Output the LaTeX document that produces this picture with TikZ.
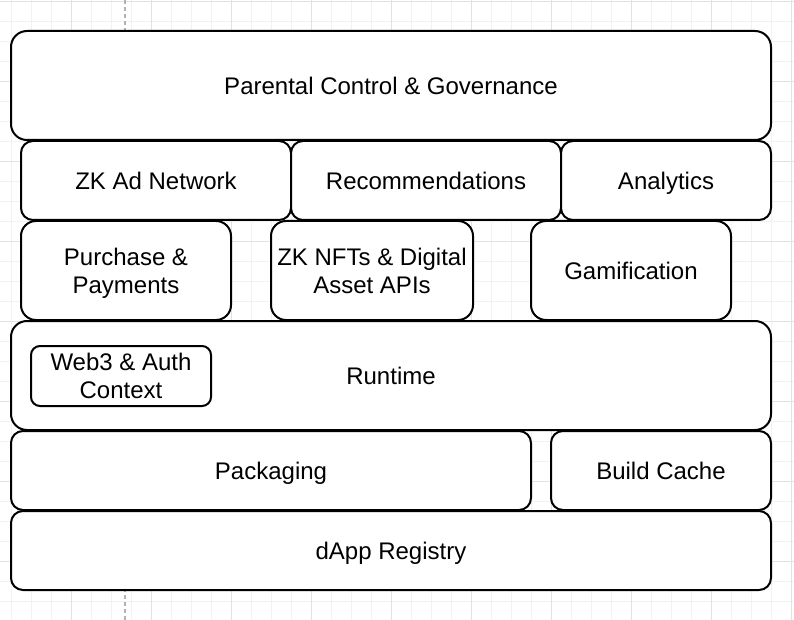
\documentclass[tikz,border=0pt]{standalone}
\usepackage{fontspec}
\setmainfont{Liberation Sans}

\definecolor{gridminor}{RGB}{242,242,242}
\definecolor{gridmajor}{RGB}{226,226,226}
\definecolor{pageline}{RGB}{178,178,178}

\tikzset{
    layer/.style={draw, line width=2pt, fill=white, rounded corners=12pt, inner sep=0pt,
        align=center, text depth=0pt, font=\fontsize{24}{28}\selectfont},
}

\begin{document}
\begin{tikzpicture}[x=1pt,y=-1pt]
            \useasboundingbox (0,0) rectangle (794,620);
            \fill[white] (0,0) rectangle (794,620);

            % background grid and page break
            \foreach \gx in {11.7,31.7,...,791.7} \draw[gridminor, line width=1pt] (\gx,0) -- (\gx,620);
            \foreach \gy in {1.7,21.7,...,601.7} \draw[gridminor, line width=1pt] (0,\gy) -- (794,\gy);
            \foreach \gx in {71.7,151.7,...,791.7} \draw[gridmajor, line width=1pt] (\gx,0) -- (\gx,620);
            \foreach \gy in {1.7,81.7,...,561.7} \draw[gridmajor, line width=1pt] (0,\gy) -- (794,\gy);
            \draw[pageline, line width=1.5pt, dash pattern=on 4pt off 3pt] (125,0) -- (125,620);

            \node (parental) at (391,85.5) [layer, rounded corners=16pt, minimum width=760pt, minimum height=109pt] {Parental Control \& Governance};

            \node (adnet) at (156,180.5) [layer, minimum width=270pt, minimum height=79pt] {ZK Ad Network};
            \node (recs) at (426,180.5) [layer, minimum width=270pt, minimum height=79pt] {Recommendations};
            \node (analytics) at (666,180.5) [layer, minimum width=210pt, minimum height=79pt] {Analytics};

            \node (purchase) at (126,270.5) [layer, rounded corners=15pt, minimum width=210pt, minimum height=99pt] {Purchase \&\\Payments};
            \node (nfts) at (372,270.5) [layer, rounded corners=15pt, minimum width=202pt, minimum height=99pt] {ZK NFTs \& Digital\\Asset APIs};
            \node (gamification) at (631,270.5) [layer, rounded corners=15pt, minimum width=200pt, minimum height=99pt] {Gamification};

            \node (runtime) at (391,375.5) [layer, rounded corners=16pt, minimum width=760pt, minimum height=109pt] {Runtime};
            \node (web3) at (121,376) [layer, rounded corners=9pt, minimum width=180pt, minimum height=60pt] {Web3 \& Auth\\Context};

            \node (packaging) at (271,470.5) [layer, minimum width=520pt, minimum height=79pt] {Packaging};
            \node (cache) at (661,470.5) [layer, minimum width=220pt, minimum height=79pt] {Build Cache};

            \node (registry) at (391,550.5) [layer, minimum width=760pt, minimum height=79pt] {dApp Registry};
        \end{tikzpicture}
\end{document}
